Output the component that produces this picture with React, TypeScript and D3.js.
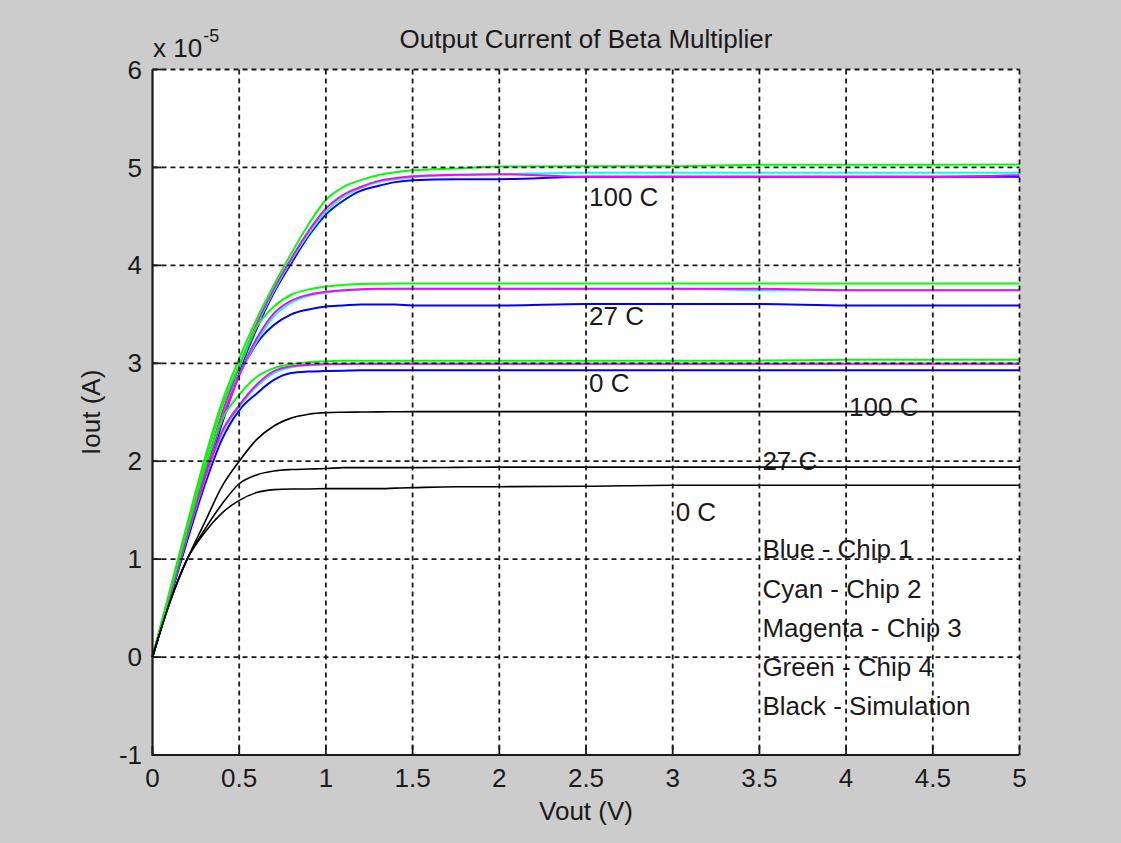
import React, { useEffect, useRef } from 'react';
import * as d3 from 'd3';

// Vout sample points (V)
const vout = [0, 0.1, 0.2, 0.3, 0.4, 0.5, 0.6, 0.7, 0.8, 0.9, 1.0, 1.1, 1.2, 1.3, 1.4, 1.5, 1.75, 2.0, 2.5, 3.0, 3.5, 4.0, 4.5, 5.0];

// Iout in units of 1e-5 A
const blue100 = [0, 0.62, 1.24, 1.86, 2.43, 2.92, 3.35, 3.72, 4.02, 4.30, 4.52, 4.66, 4.76, 4.81, 4.85, 4.87, 4.88, 4.88, 4.905, 4.905, 4.905, 4.905, 4.905, 4.905];
const cyan100 = [0, 0.63, 1.27, 1.90, 2.47, 2.95, 3.38, 3.74, 4.05, 4.32, 4.55, 4.70, 4.79, 4.85, 4.88, 4.90, 4.92, 4.93, 4.945, 4.945, 4.945, 4.945, 4.945, 4.945];
const magenta100 = [0, 0.63, 1.27, 1.90, 2.48, 2.97, 3.40, 3.76, 4.07, 4.35, 4.58, 4.72, 4.80, 4.86, 4.89, 4.91, 4.925, 4.93, 4.905, 4.905, 4.905, 4.905, 4.905, 4.92];
const green100 = [0, 0.68, 1.36, 2.02, 2.60, 3.05, 3.45, 3.80, 4.12, 4.42, 4.67, 4.80, 4.87, 4.92, 4.95, 4.97, 4.99, 5.01, 5.013, 5.013, 5.027, 5.027, 5.027, 5.03];

const blue27 = [0, 0.60, 1.20, 1.80, 2.38, 2.88, 3.20, 3.39, 3.50, 3.55, 3.58, 3.59, 3.60, 3.60, 3.60, 3.59, 3.59, 3.59, 3.605, 3.605, 3.605, 3.59, 3.59, 3.59];
const cyan27 = [0, 0.62, 1.24, 1.85, 2.42, 2.88, 3.22, 3.48, 3.62, 3.69, 3.72, 3.74, 3.75, 3.755, 3.76, 3.76, 3.76, 3.76, 3.76, 3.76, 3.745, 3.745, 3.745, 3.745];
const magenta27 = [0, 0.62, 1.25, 1.86, 2.42, 2.88, 3.25, 3.51, 3.64, 3.70, 3.73, 3.745, 3.755, 3.76, 3.76, 3.76, 3.76, 3.76, 3.76, 3.76, 3.76, 3.745, 3.745, 3.745];
const green27 = [0, 0.66, 1.33, 1.98, 2.55, 2.98, 3.37, 3.58, 3.70, 3.755, 3.785, 3.80, 3.81, 3.812, 3.814, 3.815, 3.816, 3.816, 3.816, 3.816, 3.816, 3.816, 3.816, 3.816];

const blue0 = [0, 0.60, 1.19, 1.75, 2.22, 2.52, 2.69, 2.83, 2.90, 2.915, 2.92, 2.925, 2.93, 2.93, 2.93, 2.93, 2.93, 2.93, 2.93, 2.93, 2.93, 2.93, 2.93, 2.93];
const cyan0 = [0, 0.62, 1.23, 1.80, 2.28, 2.55, 2.76, 2.90, 2.96, 2.98, 2.99, 2.995, 2.995, 2.995, 2.995, 2.995, 2.995, 2.995, 2.995, 2.995, 2.995, 2.995, 2.995, 2.995];
const magenta0 = [0, 0.62, 1.24, 1.82, 2.30, 2.57, 2.78, 2.92, 2.97, 2.985, 2.99, 2.993, 2.995, 2.995, 2.995, 2.995, 2.995, 2.995, 2.995, 2.995, 2.995, 2.995, 2.995, 2.995];
const green0 = [0, 0.66, 1.30, 1.92, 2.42, 2.68, 2.86, 2.95, 2.99, 3.01, 3.02, 3.025, 3.027, 3.027, 3.027, 3.027, 3.027, 3.027, 3.027, 3.027, 3.027, 3.035, 3.035, 3.035];

const sim100 = [0, 0.56, 1.00, 1.37, 1.74, 2.00, 2.22, 2.36, 2.44, 2.48, 2.496, 2.50, 2.502, 2.504, 2.505, 2.506, 2.506, 2.506, 2.506, 2.506, 2.506, 2.506, 2.506, 2.506];
const sim27 = [0, 0.56, 1.00, 1.30, 1.56, 1.77, 1.86, 1.90, 1.915, 1.92, 1.925, 1.935, 1.935, 1.935, 1.935, 1.935, 1.937, 1.94, 1.94, 1.94, 1.94, 1.94, 1.94, 1.94];
const sim0 = [0, 0.56, 1.00, 1.27, 1.47, 1.60, 1.68, 1.71, 1.717, 1.717, 1.72, 1.72, 1.72, 1.72, 1.725, 1.73, 1.74, 1.74, 1.745, 1.755, 1.755, 1.755, 1.755, 1.755];

const xTicks = [0, 0.5, 1, 1.5, 2, 2.5, 3, 3.5, 4, 4.5, 5];
const yTicks = [-1, 0, 1, 2, 3, 4, 5, 6];

// text annotations placed in data coordinates
const tempLabels = [
    { text: '100 C', x: 2.5, y: 4.7 },
    { text: '27 C', x: 2.5, y: 3.48 },
    { text: '0 C', x: 2.5, y: 2.8 },
    { text: '100 C', x: 4.0, y: 2.55 },
    { text: '27 C', x: 3.5, y: 2.0 },
    { text: '0 C', x: 3.0, y: 1.48 },
];
const legendText = ['Blue - Chip 1', 'Cyan - Chip 2', 'Magenta - Chip 3', 'Green - Chip 4', 'Black - Simulation'];
const legendY = [1.1, 0.7, 0.3, -0.1, -0.5];

const FONT = '"Liberation Sans", Arial, Helvetica, sans-serif';

export default function App() {
    const svgRef = useRef<SVGSVGElement>(null);

    useEffect(() => {
        const width = 1121;
        const height = 843;
        const left = 152.5, right = 1019.5, top = 69.5, bottom = 755;

        const svg = d3.select(svgRef.current);
        svg.selectAll('*').remove();
        svg.attr('width', width).attr('height', height);

        const xScale = d3.scaleLinear().domain([0, 5]).range([left, right]);
        const yScale = d3.scaleLinear().domain([-1, 6]).range([bottom, top]);

        svg.append('rect').attr('width', width).attr('height', height).attr('fill', '#cccccc');
        svg.append('rect')
            .attr('x', left).attr('y', top)
            .attr('width', right - left).attr('height', bottom - top)
            .attr('fill', '#ffffff');

        const series = [
            { v: blue100, c: '#0000ff', w: 2 }, { v: cyan100, c: '#00ffff', w: 2 },
            { v: magenta100, c: '#ff00ff', w: 2 }, { v: green100, c: '#00ff00', w: 2 },
            { v: blue27, c: '#0000ff', w: 2 }, { v: cyan27, c: '#00ffff', w: 2 },
            { v: magenta27, c: '#ff00ff', w: 2 }, { v: green27, c: '#00ff00', w: 2 },
            { v: blue0, c: '#0000ff', w: 2 }, { v: cyan0, c: '#00ffff', w: 2 },
            { v: magenta0, c: '#ff00ff', w: 2 }, { v: green0, c: '#00ff00', w: 2 },
            { v: sim100, c: '#000000', w: 1.6 }, { v: sim27, c: '#000000', w: 1.6 },
            { v: sim0, c: '#000000', w: 1.6 },
        ];

        const line = d3.line<number>()
            .x((d, i) => xScale(vout[i]))
            .y(d => yScale(d))
            .curve(d3.curveMonotoneX);

        svg.append('g')
            .selectAll('path')
            .data(series)
            .enter().append('path')
            .attr('d', s => line(s.v))
            .attr('fill', 'none')
            .attr('stroke', s => s.c)
            .attr('stroke-width', s => s.w);

        // dashed grid on top of the data, like the MATLAB figure
        const grid = svg.append('g')
            .attr('stroke', '#1a1a1a')
            .attr('stroke-width', 1.8)
            .attr('stroke-dasharray', '5,4');
        grid.selectAll('.gx')
            .data(xTicks.filter(t => t > 0))
            .enter().append('line')
            .attr('x1', d => xScale(d)).attr('x2', d => xScale(d))
            .attr('y1', top).attr('y2', bottom);
        grid.selectAll('.gy')
            .data(yTicks.filter(t => t > -1))
            .enter().append('line')
            .attr('x1', left).attr('x2', right)
            .attr('y1', d => yScale(d)).attr('y2', d => yScale(d));

        // inward ticks
        const ticks = svg.append('g').attr('stroke', '#1a1a1a').attr('stroke-width', 1.8);
        ticks.selectAll('.tx')
            .data(xTicks)
            .enter().append('line')
            .attr('x1', d => xScale(d)).attr('x2', d => xScale(d))
            .attr('y1', bottom).attr('y2', bottom - 9);
        ticks.selectAll('.ty')
            .data(yTicks)
            .enter().append('line')
            .attr('x1', left).attr('x2', left + 9)
            .attr('y1', d => yScale(d)).attr('y2', d => yScale(d));

        // axis lines (left and bottom only)
        svg.append('path')
            .attr('d', `M${left},${top}V${bottom}H${right}`)
            .attr('fill', 'none')
            .attr('stroke', '#1a1a1a')
            .attr('stroke-width', 2.2);

        const txt = svg.append('g')
            .attr('font-family', FONT)
            .attr('font-size', 26)
            .attr('fill', '#1a1a1a');

        txt.selectAll('.xl')
            .data(xTicks)
            .enter().append('text')
            .attr('x', d => xScale(d))
            .attr('y', 787)
            .attr('text-anchor', 'middle')
            .text(d => String(d));

        txt.selectAll('.yl')
            .data(yTicks)
            .enter().append('text')
            .attr('x', 142)
            .attr('y', d => yScale(d))
            .attr('dy', '0.35em')
            .attr('text-anchor', 'end')
            .text(d => String(d));

        txt.append('text')
            .attr('x', (left + right) / 2).attr('y', 48)
            .attr('text-anchor', 'middle')
            .text('Output Current of Beta Multiplier');

        txt.append('text')
            .attr('x', (left + right) / 2).attr('y', 820)
            .attr('text-anchor', 'middle')
            .text('Vout (V)');

        txt.append('text')
            .attr('transform', `translate(100,${(top + bottom) / 2}) rotate(-90)`)
            .attr('text-anchor', 'middle')
            .text('Iout (A)');

        const expo = txt.append('text').attr('x', 153).attr('y', 57);
        expo.append('tspan').text('x 10');
        expo.append('tspan')
            .attr('font-size', 18)
            .attr('dy', -15)
            .attr('dx', 1)
            .text('-5');

        txt.selectAll('.tl')
            .data(tempLabels)
            .enter().append('text')
            .attr('x', d => xScale(d.x) + 3)
            .attr('y', d => yScale(d.y))
            .attr('dy', '0.35em')
            .text(d => d.text);

        txt.selectAll('.lg')
            .data(legendText)
            .enter().append('text')
            .attr('x', xScale(3.5) + 3)
            .attr('y', (d, i) => yScale(legendY[i]))
            .attr('dy', '0.35em')
            .text(d => d);
    }, []);

    return (
        <svg ref={svgRef} style={{ position: 'fixed', left: 0, top: 0, display: 'block' }}></svg>
    );
}
